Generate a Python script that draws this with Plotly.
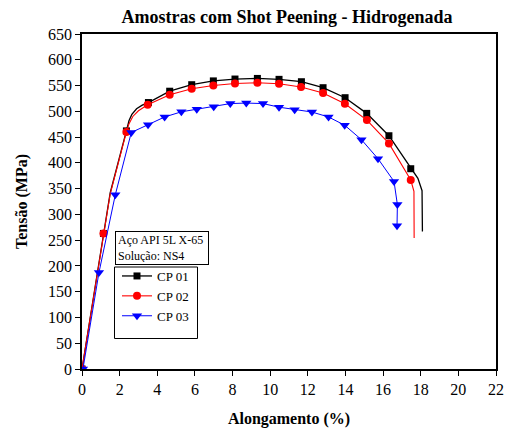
import plotly.graph_objects as go

# ---- data ----
# CP 01 (black squares): full curve and marker positions
cp01_curve_x = [0, 1.14, 1.5, 2.36, 2.5, 2.65, 2.9, 3.2, 3.53, 4.66, 5.83, 6.98, 8.13, 9.32,
                10.47, 11.66, 12.81, 13.98, 15.13, 16.31, 17.47, 17.85, 18.07, 18.09]
cp01_curve_y = [0, 263, 342, 462, 482, 494, 505, 512, 517, 539, 551.6, 559, 562.6, 563.8,
                562, 557.4, 545.8, 526.4, 496, 452.6, 388.6, 370, 346, 267]
cp01_mark_x = [0, 1.14, 2.36, 3.53, 4.66, 5.83, 6.98, 8.13, 9.32, 10.47, 11.66, 12.81, 13.98,
               15.13, 16.31, 17.47]
cp01_mark_y = [0, 263, 462, 517, 539, 551.6, 559, 562.6, 563.8, 562, 557.4, 545.8, 526.4,
               496, 452.6, 388.6]

# CP 02 (red circles)
cp02_curve_x = [0, 1.14, 1.5, 2.36, 2.5, 2.7, 3.0, 3.49, 4.66, 5.83, 6.98, 8.13, 9.32, 10.47,
                11.64, 12.81, 13.97, 15.14, 16.31, 17.47, 17.6, 17.64, 17.65]
cp02_curve_y = [0, 263, 340, 460, 476, 490, 501, 512.6, 532, 543.8, 550, 554, 555.5, 553.5,
                547, 535.5, 514.7, 483, 437.7, 366.7, 352, 344.6, 254]
cp02_mark_x = [0, 1.14, 2.36, 3.49, 4.66, 5.83, 6.98, 8.13, 9.32, 10.47, 11.64, 12.81, 13.97,
               15.14, 16.31, 17.47]
cp02_mark_y = [0, 263, 460, 512.6, 532, 543.8, 550, 554, 555.5, 553.5, 547, 535.5, 514.7,
               483, 437.7, 366.7]

# CP 03 (blue down-triangles)
cp03_x = [0.05, 0.9, 1.77, 2.62, 3.51, 4.39, 5.28, 6.1, 7.0, 7.88, 8.73, 9.62, 10.47, 11.3,
          12.22, 13.1, 13.96, 14.85, 15.73, 16.58, 16.76, 16.74]
cp03_y = [0, 187, 338, 459, 474, 489, 499, 504, 509, 515, 516, 515, 508, 503, 498.6, 489,
          473, 445, 408, 364, 319, 278]

series_names = ["CP 01", "CP 02", "CP 03"]
x_ticks = list(range(0, 23, 2))
y_ticks = list(range(0, 651, 50))

FONT = "Liberation Serif"
W, H = 509, 428
ML, MR, MT, MB = 82, 13, 34, 59
PW, PH = W - ML - MR, H - MT - MB

def px_x(p):  # pixel -> paper
    return (p - ML) / PW

def px_y(p):
    return (H - MB - p) / PH

fig = go.Figure()

# CP 01
fig.add_trace(go.Scatter(x=cp01_curve_x, y=cp01_curve_y, mode="lines",
                         line=dict(color="black", width=1.3), showlegend=False, hoverinfo="skip"))
fig.add_trace(go.Scatter(x=cp01_mark_x, y=cp01_mark_y, mode="markers",
                         marker=dict(symbol="square", size=7, color="black"), showlegend=False))
# CP 02
fig.add_trace(go.Scatter(x=cp02_curve_x, y=cp02_curve_y, mode="lines",
                         line=dict(color="#FF0000", width=1.1), showlegend=False, hoverinfo="skip"))
fig.add_trace(go.Scatter(x=cp02_mark_x, y=cp02_mark_y, mode="markers",
                         marker=dict(symbol="circle", size=8, color="#FF0000"), showlegend=False))
# CP 03
fig.add_trace(go.Scatter(x=cp03_x, y=cp03_y, mode="lines+markers",
                         line=dict(color="#0000FF", width=1),
                         marker=dict(symbol="triangle-down", size=9, color="#0000FF"),
                         showlegend=False))

# legend entries
legend_styles = [
    dict(line=dict(color="black", width=1.3), marker=dict(symbol="square", size=7, color="black")),
    dict(line=dict(color="#FF0000", width=1.1), marker=dict(symbol="circle", size=8, color="#FF0000")),
    dict(line=dict(color="#0000FF", width=1), marker=dict(symbol="triangle-down", size=9, color="#0000FF")),
]
for name, st in zip(series_names, legend_styles):
    fig.add_trace(go.Scatter(x=[None], y=[None], mode="lines+markers", name=name, **st))

axis_common = dict(
    showline=True, linecolor="black", linewidth=1.5, mirror=True,
    ticks="outside", ticklen=5, tickwidth=1.3, tickcolor="black",
    showgrid=False, zeroline=False, automargin=False,
    tickfont=dict(family=FONT, size=16, color="black"),
)

fig.update_layout(
    width=W, height=H,
    margin=dict(l=ML, r=MR, t=MT, b=MB, autoexpand=False),
    paper_bgcolor="white", plot_bgcolor="white",
    font=dict(family=FONT, color="black"),
    title=dict(text="<b>Amostras com Shot Peening - Hidrogenada</b>",
               font=dict(family=FONT, size=18, color="black"),
               x=287 / W, xanchor="center", xref="container",
               y=1 - 17 / H, yanchor="middle", yref="container"),
    xaxis=dict(range=[0, 22], tickvals=x_ticks, **axis_common,
               title=dict(text="<b>Alongamento (%)</b>",
                          font=dict(family=FONT, size=16, color="black"), standoff=17)),
    yaxis=dict(range=[0, 650], tickvals=y_ticks, **axis_common,
               title=dict(text="<b>Tensão (MPa)</b>",
                          font=dict(family=FONT, size=16, color="black"), standoff=16)),
    legend=dict(x=px_x(117), y=px_y(261), xanchor="left", yanchor="top",
                bgcolor="rgba(0,0,0,0)", borderwidth=0, tracegroupgap=0,
                font=dict(family=FONT, size=13, color="black")),
    showlegend=True,
)

# legend frame
fig.add_shape(type="rect", xref="paper", yref="paper",
              x0=px_x(114.5), x1=px_x(197.5), y0=px_y(338.5), y1=px_y(267),
              line=dict(color="black", width=1), fillcolor="rgba(0,0,0,0)")

# info box
fig.add_annotation(text="Aço API 5L X-65<br>Solução: NS4", xref="paper", yref="paper",
                   x=px_x(114.5), y=px_y(230.5), xanchor="left", yanchor="top",
                   align="left", valign="middle", showarrow=False,
                   width=88, height=28, borderpad=2,
                   bordercolor="black", borderwidth=1,
                   font=dict(family=FONT, size=12, color="black"))

fig.write_html(
    "out.html",
    config={"displayModeBar": False},
    post_script="document.body.style.margin='0';document.body.style.overflow='hidden';",
)
